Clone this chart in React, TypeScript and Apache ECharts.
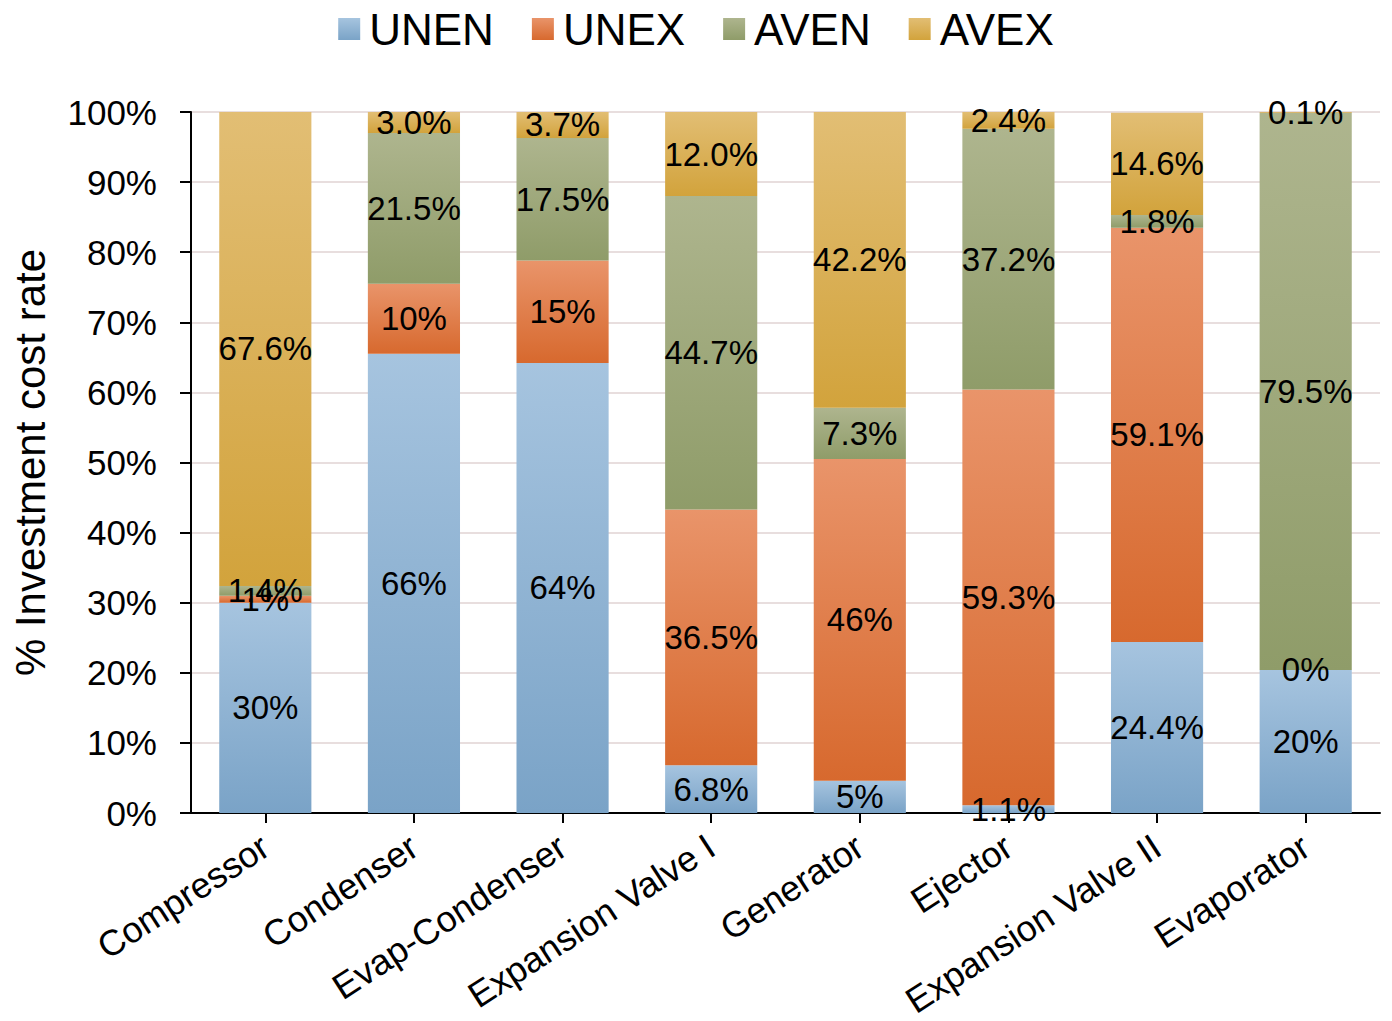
import React, { useEffect, useRef } from "react";
import * as echarts from "echarts";

// Components of the system
const categories = [
  "Compressor",
  "Condenser",
  "Evap-Condenser",
  "Expansion Valve I",
  "Generator",
  "Ejector",
  "Expansion Valve II",
  "Evaporator",
];

// Share of investment cost rate (%) per part
const unen = [30, 65.5, 64.2, 6.8, 4.6, 1.1, 24.4, 20.4];
const unex = [1, 10, 14.6, 36.5, 45.9, 59.3, 59.1, 0];
const aven = [1.4, 21.5, 17.5, 44.7, 7.3, 37.2, 1.8, 79.5];
const avex = [67.6, 3.0, 3.7, 12.0, 42.2, 2.4, 14.6, 0.1];

// Decimal places used by each data label
const unenDigits = [0, 0, 0, 1, 0, 1, 1, 0];
const unexDigits = [0, 0, 0, 1, 0, 1, 1, 0];
const avenDigits = [1, 1, 1, 1, 1, 1, 1, 1];
const avexDigits = [1, 1, 1, 1, 1, 1, 1, 1];

const yTicks = [0, 10, 20, 30, 40, 50, 60, 70, 80, 90, 100];

const FONT = "'Liberation Sans', Arial, sans-serif";

const grad = (top: string, bottom: string) =>
  new echarts.graphic.LinearGradient(0, 0, 0, 1, [
    { offset: 0, color: top },
    { offset: 1, color: bottom },
  ]);

export default function App() {
  const ref = useRef<HTMLDivElement>(null);

  useEffect(() => {
    if (!ref.current) return;
    const chart = echarts.init(ref.current, undefined, { renderer: "svg" });

    const makeSeries = (
      name: string,
      values: number[],
      digits: number[],
      top: string,
      bottom: string
    ) => ({
      name,
      type: "bar",
      stack: "total",
      barWidth: "62%",
      data: values,
      itemStyle: { color: grad(top, bottom) },
      label: {
        show: true,
        position: "inside",
        color: "#000",
        fontSize: 33,
        fontFamily: FONT,
        formatter: (p: any) => `${values[p.dataIndex].toFixed(digits[p.dataIndex])}%`,
      },
    });

    chart.setOption({
      animation: false,
      backgroundColor: "#ffffff",
      textStyle: { fontFamily: FONT },
      legend: {
        top: 2,
        left: "center",
        icon: "rect",
        itemWidth: 22,
        itemHeight: 22,
        itemGap: 38,
        textStyle: { fontSize: 44, color: "#000", fontFamily: FONT, padding: [0, 0, 0, 4] },
        data: ["UNEN", "UNEX", "AVEN", "AVEX"],
      },
      grid: {
        left: 191,
        right: 12,
        top: 112,
        bottom: 208,
        containLabel: false,
        outerBoundsMode: "none",
      },
      xAxis: {
        type: "category",
        data: categories,
        axisLine: { show: true, lineStyle: { color: "#000", width: 2 } },
        axisTick: { show: true, alignWithLabel: true, length: 10, lineStyle: { color: "#000", width: 2 } },
        axisLabel: {
          rotate: 33,
          interval: 0,
          margin: 30,
          fontSize: 36,
          color: "#000",
          fontFamily: FONT,
        },
      },
      yAxis: {
        type: "value",
        min: yTicks[0],
        max: yTicks[yTicks.length - 1],
        interval: 10,
        name: "% Investment cost rate",
        nameLocation: "middle",
        nameGap: 140,
        nameTextStyle: { fontSize: 42, color: "#000", fontFamily: FONT },
        axisLine: { show: true, lineStyle: { color: "#000", width: 2 } },
        axisTick: { show: true, inside: false, length: 11, lineStyle: { color: "#000", width: 2 } },
        axisLabel: {
          formatter: "{value}%",
          fontSize: 35,
          color: "#000",
          margin: 34,
          fontFamily: FONT,
        },
        splitLine: { show: true, lineStyle: { color: "#e8dede", width: 2 } },
      },
      series: [
        makeSeries("UNEN", unen, unenDigits, "#a6c4df", "#7aa3c7"),
        makeSeries("UNEX", unex, unexDigits, "#e9946a", "#d7692e"),
        makeSeries("AVEN", aven, avenDigits, "#aeb58e", "#8f9c69"),
        makeSeries("AVEX", avex, avexDigits, "#e2be74", "#d2a33c"),
      ],
    });

    return () => chart.dispose();
  }, []);

  return (
    <div
      ref={ref}
      style={{ position: "fixed", left: 0, top: 0, width: 1392, height: 1021 }}
    />
  );
}
